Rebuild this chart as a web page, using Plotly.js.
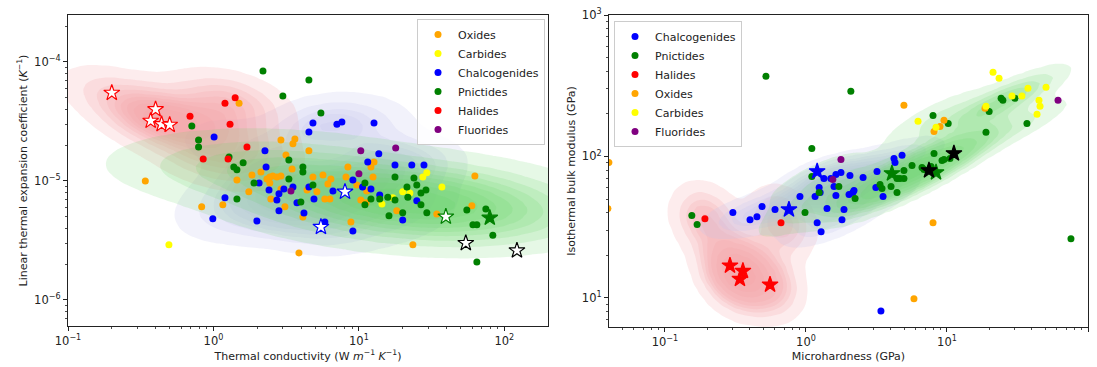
<!DOCTYPE html>
<html><head><meta charset="utf-8">
<script src="https://cdn.plot.ly/plotly-3.0.1.min.js"></script>
<style>html,body{margin:0;padding:0;background:#fff}#chart{width:1097px;height:367px}</style>
</head><body><div id="chart"></div>
<script>
// ---------- LEFT PANEL: thermal conductivity (W m^-1 K^-1) vs linear thermal expansion coefficient (K^-1)
const leftOxidesK = [1.50,0.34,0.83,1.16,2.91,3.63,3.52,4.53,3.15,3.47,1.84,2.12,1.45,2.33,2.44,2.56,2.73,2.91,2.44,1.75,2.48,3.10,4.12,4.83,5.66,6.42,6.12,8.15,8.40,4.40,5.83,6.32,5.14,9.68,8.81,10.3,11.2,2.91,12.1,12.7,12.5,62.7,11.3,18.2,34.3,59.8,23.5,3.87];
const leftOxidesA = [4.5e-5,1.0e-5,6.05e-6,6.3e-6,2.21e-5,2.25e-5,2.05e-5,1.79e-5,1.65e-5,1.26e-5,1.12e-5,1.19e-5,1.02e-5,1.04e-5,1.08e-5,1.10e-5,1.08e-5,1.10e-5,9.6e-6,8.1e-6,7.06e-6,6.05e-6,4.98e-6,1.08e-5,1.12e-5,1.04e-5,9.44e-6,1.08e-5,1.31e-5,8.4e-6,7.06e-6,7.06e-6,8.1e-6,9.25e-6,4.52e-6,6.92e-6,6.54e-6,8.57e-6,1.31e-5,1.44e-5,1.08e-5,1.10e-5,8.24e-6,5.6e-6,5.28e-6,6.17e-6,2.9e-6,2.48e-6];
const leftCarbidesK = [0.494,27.5,29.3,37.2,20.0,22.4,17.1,14.4];
const leftCarbidesA = [2.9e-6,1.08e-5,1.17e-5,8.9e-6,8.1e-6,7.9e-6,7.2e-6,6.4e-6];
const leftChalcK = [1.01,2.26,2.30,2.06,1.20,0.99,1.99,2.41,2.82,2.73,3.05,3.75,4.53,4.91,4.19,2.82,4.83,4.53,7.06,7.64,6.63,9.09,10.6,5.83,12.7,13.7,11.5,17.7,23.1,28.0,12.1,13.9,25.0,20.0,9.09,3.52];
const leftChalcA = [2.34e-5,1.79e-5,1.31e-5,9.6e-6,7.2e-6,4.8e-6,4.6e-6,8.4e-6,7.8e-6,6.9e-6,8.57e-6,6.54e-6,8.9e-6,7.06e-6,5.38e-6,5.6e-6,3.07e-5,2.58e-5,3.0e-5,3.13e-5,8.24e-6,1.02e-5,8.9e-6,4.52e-6,3.07e-5,1.69e-5,1.44e-5,1.36e-5,1.36e-5,1.36e-5,8.57e-6,7.6e-6,6.8e-6,4.7e-6,3.8e-6,8.9e-6];
const leftPnicK = [2.19,4.53,3.00,5.48,0.71,0.79,0.79,1.28,1.38,1.45,1.60,1.90,1.45,3.30,3.30,4.12,4.12,4.83,3.99,11.0,11.0,17.7,23.9,21.4,25.0,26.7,28.9,21.7,15.8,12.1,13.9,17.7,26.7,29.3,20.0,16.1,55.2,74.6,60.8,64.7,83.3,64.7];
const leftPnicA = [8.4e-5,7.06e-5,5.18e-5,3.73e-5,2.9e-5,2.21e-5,1.93e-5,1.59e-5,1.31e-5,1.24e-5,1.42e-5,9.6e-6,7.06e-6,1.50e-5,1.04e-5,1.31e-5,1.19e-5,9.25e-6,6.66e-6,9.6e-6,6.3e-6,1.08e-5,1.06e-5,8.9e-6,9.25e-6,7.9e-6,8.4e-6,7.3e-6,7.3e-6,7.06e-6,7.06e-6,6.9e-6,6.3e-6,5.4e-6,5.4e-6,5.1e-6,5.7e-6,5.8e-6,4.27e-6,4.27e-6,3.5e-6,2.08e-6];
const leftHalK = [0.69,1.20,1.41,1.30,1.70,0.85,1.26];
const leftHalA = [3.5e-5,4.5e-5,5.0e-5,3.0e-5,1.93e-5,1.53e-5,1.53e-5];
const leftFluK = [3.41,10.3,10.0,17.9];
const leftFluA = [8.24e-6,1.79e-5,1.15e-5,1.89e-5];
// highlighted compounds (stars)
const leftHalStarK = [0.20,0.40,0.37,0.44,0.50];
const leftHalStarA = [5.5e-5,4.0e-5,3.2e-5,3.0e-5,2.96e-5];
const leftChalcStarK = [8.02,5.48];
const leftChalcStarA = [8.1e-6,4.1e-6];
const leftPnicOpenStarK = [39.6];
const leftPnicOpenStarA = [5.0e-6];
const leftPnicStarK = [79.4];
const leftPnicStarA = [4.9e-6];
const leftBlackStarK = [54.3,122];
const leftBlackStarA = [3.0e-6,2.6e-6];

// ---------- RIGHT PANEL: microhardness (GPa) vs isothermal bulk modulus (GPa)
const rightChalcH = [1.34,0.906,1.16,1.24,4.80,4.21,4.28,3.19,2.54,2.05,1.77,1.63,1.58,3.13,2.19,3.52,1.50,1.63,2.15,2.02,1.26,1.41,1.86,1.80,1.20,1.28,0.603,0.488,0.449,0.401,0.303,3.40];
const rightChalcB = [69.8,52.0,52.0,60.3,102,96.8,90.7,78.3,71.0,73.4,77.1,74.6,61.3,60.3,57.4,52.0,69.8,52.9,55.6,53.8,55.6,42.8,42.1,35.7,34.0,29.4,42.1,44.2,37.5,35.7,40.1,8.09];
const rightPnicH = [0.520,1.10,1.10,1.24,2.08,7.96,10.2,18.9,19.9,24.2,24.9,30.3,36.9,8.09,9.22,9.52,10.5,5.65,4.95,4.42,4.64,4.95,6.65,6.87,3.46,4.01,4.42,1.71,2.23,0.984,3.35,0.155,0.169,75.7,7.70];
const rightPnicB = [369,114,72.1,55.6,289,195,171,148,208,258,250,258,171,105,93.7,95.2,96.8,86.3,79.6,69.8,69.8,69.8,83.6,80.9,59.3,61.3,55.6,61.3,50.4,40.1,63.3,38.2,33.0,26.2,85.0];
const rightHalH = [0.192,0.665];
const rightHalB = [36.3,34.0];
const rightOxH = [4.95,9.52,8.92,8.09,18.6,7.96,5.83,0.040,0.0394];
const rightOxB = [230,180,163,150,219,34.0,9.84,90.7,42.8];
const rightCarbH = [21.2,23.4,6.23,8.36,18.9,28.9,34.0,37.5,50.4,44.9,45.7,43.5];
const rightCarbB = [394,357,177,161,226,267,267,303,308,250,226,199];
const rightFluH = [61.3,1.77,1.55];
const rightFluB = [250,95.2,68.7];
const rightHalStarH = [0.289,0.357,0.340,0.556];
const rightHalStarB = [16.9,15.5,13.6,12.4];
const rightChalcStarH = [1.20,0.757];
const rightChalcStarB = [78.3,42.1];
const rightPnicStarH = [4.07,8.36];
const rightPnicStarB = [75.8,77.1];
const rightBlackStarH = [11.2,7.45];
const rightBlackStarB = [105,79.6];

// ---------- tick labels
const leftXTickVals = [0.1,1,10,100];
const leftXTickText = ['10<sup>\u22121</sup>','10<sup>0</sup>','10<sup>1</sup>','10<sup>2</sup>'];
const leftYTickVals = [1e-6,1e-5,1e-4];
const leftYTickText = ['10<sup>\u22126</sup>','10<sup>\u22125</sup>','10<sup>\u22124</sup>'];
const rightXTickVals = [0.1,1,10,100];
const rightXTickText = ['10<sup>\u22121</sup>','10<sup>0</sup>','10<sup>1</sup>','10<sup>2</sup>'];
const rightYTickVals = [10,100,1000];
const rightYTickText = ['10<sup>1</sup>','10<sup>2</sup>','10<sup>3</sup>'];

// ---------- colours
const C = {Oxides:'#FFA500', Carbides:'#FFFF00', Chalcogenides:'#0000FF', Pnictides:'#008000', Halides:'#FF0000', Fluorides:'#800080'};

// ---------- KDE in log space (Scott bandwidth, robust core of each class) -> iso-proportion surface
function stats(lx, ly, idx) {
  const N = idx.length; let mx=0, my=0;
  idx.forEach(i=>{mx+=lx[i]; my+=ly[i];}); mx/=N; my/=N;
  let sxx=0, syy=0, sxy=0;
  idx.forEach(i=>{const dx=lx[i]-mx, dy=ly[i]-my; sxx+=dx*dx; syy+=dy*dy; sxy+=dx*dy;});
  sxx/=(N-1); syy/=(N-1); sxy/=(N-1);
  return {mx, my, sxx, syy, sxy};
}
function kde(xs, ys, xr, yr, n, opt) {
  const lx = xs.map(v => Math.log10(v)), ly = ys.map(v => Math.log10(v));
  let idx = lx.map((_,i)=>i);
  for (let it=0; it<opt.trim; it++) {
    const s = stats(lx, ly, idx); const det = s.sxx*s.syy - s.sxy*s.sxy;
    idx = idx.filter(i=>{const dx=lx[i]-s.mx, dy=ly[i]-s.my;
      return (s.syy*dx*dx - 2*s.sxy*dx*dy + s.sxx*dy*dy)/det <= opt.thr;});
  }
  const s = stats(lx, ly, idx); const N = idx.length;
  const f2 = Math.pow(N, -1/3) * opt.bw * opt.bw;
  const a=s.sxx*f2, d=s.syy*f2, b=opt.diag ? 0 : s.sxy*f2, det=a*d-b*b;
  const ia=d/det, id=a/det, ib=-b/det;
  const px = idx.map(i=>lx[i]), py = idx.map(i=>ly[i]);
  const gx=[], gy=[];
  for (let i=0;i<n;i++){gx.push(xr[0]+(xr[1]-xr[0])*i/(n-1)); gy.push(yr[0]+(yr[1]-yr[0])*i/(n-1));}
  const z=[], flat=[];
  for (let j=0;j<n;j++){ const row=[]; for (let i=0;i<n;i++){ let sum=0;
      for (let k=0;k<N;k++){const dx=gx[i]-px[k], dy=gy[j]-py[k]; sum+=Math.exp(-0.5*(ia*dx*dx+2*ib*dx*dy+id*dy*dy));}
      row.push(sum); flat.push(sum);} z.push(row);}
  const sorted = flat.slice().sort((p,q)=>q-p);
  const total = sorted.reduce((p,q)=>p+q,0);
  const cum = new Float64Array(sorted.length); let c=0;
  for (let k=0;k<sorted.length;k++){c+=sorted[k]; cum[k]=c;}
  function prop(v){ let lo=0, hi=sorted.length; while(lo<hi){const m=(lo+hi)>>1; if(sorted[m]>=v) lo=m+1; else hi=m;}
    return (total-(lo>0?cum[lo-1]:0))/total; }
  return {x: gx.map(v=>Math.pow(10,v)), y: gy.map(v=>Math.pow(10,v)), z: z.map(r=>r.map(prop))};
}
function kdeTrace(xs, ys, xr, yr, rgb, alpha, opt, xa, ya) {
  const g = kde(xs, ys, xr, yr, 130, opt);
  return {type:'contour', x:g.x, y:g.y, z:g.z, xaxis:xa, yaxis:ya, showscale:false, hoverinfo:'skip', showlegend:false,
    autocontour:false, contours:{start:0.05, end:0.95, size:0.95/9, coloring:'fill', showlines:false},
    line:{width:0, smoothing:1}, zmin:0, zmax:1, zauto:false,
    colorscale:[[0,`rgba(${rgb},0)`],[0.04,`rgba(${rgb},0)`],[0.06,`rgba(${rgb},${alpha})`],[1,`rgba(${rgb},${alpha})`]]};
}
function dots(x, y, name, xa, ya, leg) {
  return {type:'scatter', mode:'markers', x, y, name, xaxis:xa, yaxis:ya, legend:leg, showlegend:true,
    marker:{size:7, color:C[name], line:{width:0}}, hoverinfo:'skip'};
}
function stars(x, y, col, open, xa, ya) {
  return {type:'scatter', mode:'markers', x, y, xaxis:xa, yaxis:ya, showlegend:false, hoverinfo:'skip',
    marker:{symbol:'star', size:12, color: open ? '#ffffff' : col, line:{width:1.2, color:col}}};
}

const LXR=[-2.5,3.8], LYR=[-7.7,-2.1], RXR=[-2.6,3.3], RYR=[-0.6,4.3];
const halLeftK = leftHalK.concat(leftHalStarK), halLeftA = leftHalA.concat(leftHalStarA);
const chLeftK = leftChalcK.concat(leftChalcStarK), chLeftA = leftChalcA.concat(leftChalcStarA);
const pnLeftK = leftPnicK.concat(leftPnicOpenStarK, leftPnicStarK), pnLeftA = leftPnicA.concat(leftPnicOpenStarA, leftPnicStarA);
const halRightH = rightHalH.concat(rightHalStarH), halRightB = rightHalB.concat(rightHalStarB);
const chRightH = rightChalcH.concat(rightChalcStarH), chRightB = rightChalcB.concat(rightChalcStarB);
const pnRightH = rightPnicH.concat(rightPnicStarH), pnRightB = rightPnicB.concat(rightPnicStarB);

const BLUE='196,196,236', GREEN='100,212,100', RED='247,160,166';
const traces = [
  kdeTrace(chLeftK, chLeftA, LXR, LYR, BLUE, 0.22, {bw:1.0, trim:0, thr:6, diag:false}, 'x', 'y'),
  kdeTrace(halLeftK, halLeftA, LXR, LYR, RED, 0.2, {bw:1.2, trim:0, thr:6, diag:false}, 'x', 'y'),
  kdeTrace(pnLeftK, pnLeftA, LXR, LYR, GREEN, 0.16, {bw:1.7, trim:4, thr:3.5, diag:true}, 'x', 'y'),
  dots(leftOxidesK, leftOxidesA, 'Oxides', 'x', 'y', 'legend'),
  dots(leftCarbidesK, leftCarbidesA, 'Carbides', 'x', 'y', 'legend'),
  dots(leftChalcK, leftChalcA, 'Chalcogenides', 'x', 'y', 'legend'),
  dots(leftPnicK, leftPnicA, 'Pnictides', 'x', 'y', 'legend'),
  dots(leftHalK, leftHalA, 'Halides', 'x', 'y', 'legend'),
  dots(leftFluK, leftFluA, 'Fluorides', 'x', 'y', 'legend'),
  stars(leftHalStarK, leftHalStarA, C.Halides, true, 'x', 'y'),
  stars(leftChalcStarK, leftChalcStarA, C.Chalcogenides, true, 'x', 'y'),
  stars(leftPnicOpenStarK, leftPnicOpenStarA, C.Pnictides, true, 'x', 'y'),
  stars(leftPnicStarK, leftPnicStarA, C.Pnictides, false, 'x', 'y'),
  stars(leftBlackStarK, leftBlackStarA, '#000000', true, 'x', 'y'),

  kdeTrace(halRightH, halRightB, RXR, RYR, RED, 0.2, {bw:0.95, trim:0, thr:6, diag:false}, 'x2', 'y2'),
  kdeTrace(chRightH, chRightB, RXR, RYR, BLUE, 0.22, {bw:1.15, trim:1, thr:5.99, diag:false}, 'x2', 'y2'),
  kdeTrace(pnRightH, pnRightB, RXR, RYR, GREEN, 0.16, {bw:1.05, trim:2, thr:5.99, diag:false}, 'x2', 'y2'),
  dots(rightChalcH, rightChalcB, 'Chalcogenides', 'x2', 'y2', 'legend2'),
  dots(rightPnicH, rightPnicB, 'Pnictides', 'x2', 'y2', 'legend2'),
  dots(rightHalH, rightHalB, 'Halides', 'x2', 'y2', 'legend2'),
  dots(rightOxH, rightOxB, 'Oxides', 'x2', 'y2', 'legend2'),
  dots(rightCarbH, rightCarbB, 'Carbides', 'x2', 'y2', 'legend2'),
  dots(rightFluH, rightFluB, 'Fluorides', 'x2', 'y2', 'legend2'),
  stars(rightHalStarH, rightHalStarB, C.Halides, false, 'x2', 'y2'),
  stars(rightChalcStarH, rightChalcStarB, C.Chalcogenides, false, 'x2', 'y2'),
  stars(rightPnicStarH, rightPnicStarB, C.Pnictides, false, 'x2', 'y2'),
  stars(rightBlackStarH, rightBlackStarB, '#000000', false, 'x2', 'y2')
];

const FONT = 'DejaVu Sans, sans-serif';
const tickFont = {family:FONT, size:11.5, color:'#222'};
const titleFont = {family:FONT, size:11, color:'#222'};
function minorVals(lo, hi){ const v=[]; for (let e=lo;e<hi;e++) for (let m=2;m<=9;m++) v.push(m*Math.pow(10,e)); return v; }
function axis(extra){
  return Object.assign({type:'log', showline:true, mirror:true, linecolor:'#222', linewidth:1.1, showgrid:false, zeroline:false,
    ticks:'outside', ticklen:4, tickwidth:1, tickcolor:'#222', tickmode:'array', tickfont:tickFont,
    fixedrange:true}, extra);
}
const legendBase = {xanchor:'left', yanchor:'top', bgcolor:'rgba(255,255,255,0.85)', bordercolor:'#cccccc', borderwidth:1,
  font:{family:FONT, size:11, color:'#222'}, traceorder:'normal', itemwidth:30, tracegroupgap:0};

const layout = {
  width:1097, height:367, margin:{l:0,r:0,t:0,b:0}, paper_bgcolor:'#fff', plot_bgcolor:'rgba(0,0,0,0)', showlegend:true,
  xaxis: axis({domain:[68/1097, 548/1097], anchor:'y', range:[-1, 2.30], tickvals:leftXTickVals, ticktext:leftXTickText,
    minor:{tickvals:minorVals(-1,3), ticks:'outside', ticklen:2, tickwidth:0.8, tickcolor:'#222', showgrid:false},
    title:{text:'Thermal conductivity (W <i>m</i><sup>\u22121</sup> <i>K</i><sup>\u22121</sup>)', font:titleFont, standoff:4}}),
  yaxis: axis({domain:[1-326/367, 1-15/367], anchor:'x', range:[-6.22, -3.605], tickvals:leftYTickVals, ticktext:leftYTickText,
    minor:{tickvals:minorVals(-7,-3), ticks:'outside', ticklen:2, tickwidth:0.8, tickcolor:'#222', showgrid:false},
    title:{text:'Linear thermal expansion coefficient (<i>K</i><sup>\u22121</sup>)', font:titleFont, standoff:4}}),
  xaxis2: axis({domain:[609/1097, 1088/1097], anchor:'y2', range:[-1.397, 2.0], tickvals:rightXTickVals, ticktext:rightXTickText,
    minor:{tickvals:minorVals(-2,2), ticks:'outside', ticklen:2, tickwidth:0.8, tickcolor:'#222', showgrid:false},
    title:{text:'Microhardness (GPa)', font:titleFont, standoff:4}}),
  yaxis2: axis({domain:[1-327/367, 1-15/367], anchor:'x2', range:[0.794, 3.0], tickvals:rightYTickVals, ticktext:rightYTickText,
    minor:{tickvals:minorVals(0,3), ticks:'outside', ticklen:2, tickwidth:0.8, tickcolor:'#222', showgrid:false},
    title:{text:'Isothermal bulk modulus (GPa)', font:titleFont, standoff:4}}),
  legend: Object.assign({x:417/1097, y:1-19/367}, legendBase),
  legend2: Object.assign({x:614/1097, y:1-21/367}, legendBase)
};

Plotly.newPlot('chart', traces, layout, {displayModeBar:false, staticPlot:true});
</script>
</body></html>
